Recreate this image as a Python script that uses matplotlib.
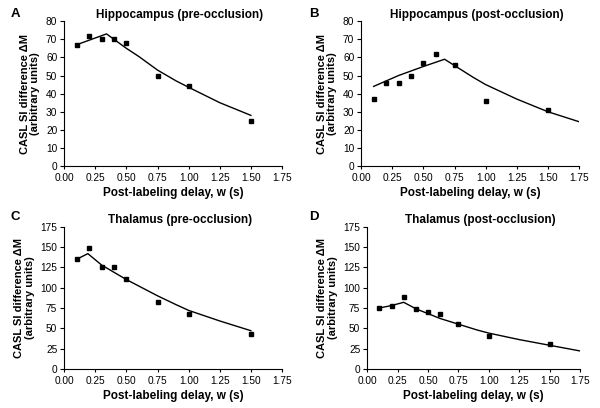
import matplotlib
matplotlib.use("Agg")
import matplotlib.pyplot as plt

plt.rcParams['font.family'] = ['Liberation Sans', 'DejaVu Sans']

# measured points
hip_pre_x = [0.1, 0.2, 0.3, 0.4, 0.5, 0.75, 1.0, 1.5]
hip_pre_y = [67, 72, 70, 70, 68, 50, 44, 25]
hip_post_x = [0.1, 0.2, 0.3, 0.4, 0.5, 0.6, 0.75, 1.0, 1.5]
hip_post_y = [37, 46, 46, 50, 57, 62, 56, 36, 31]
thal_pre_x = [0.1, 0.2, 0.3, 0.4, 0.5, 0.75, 1.0, 1.5]
thal_pre_y = [135, 149, 125, 125, 111, 82, 67, 43]
thal_post_x = [0.1, 0.2, 0.3, 0.4, 0.5, 0.6, 0.75, 1.0, 1.5]
thal_post_y = [75, 77, 88, 74, 70, 67, 55, 40, 30]

# model curves
hip_pre_fx = [0.1, 0.2, 0.34, 0.4, 0.5, 0.6, 0.75, 0.9, 1.0, 1.25, 1.5]
hip_pre_fy = [67, 69.5, 73, 70, 65, 60.5, 53, 47, 43.5, 35, 28]
hip_post_fx = [0.1, 0.2, 0.3, 0.4, 0.5, 0.67, 0.75, 0.9, 1.0, 1.25, 1.5, 1.75]
hip_post_fy = [44, 47, 50, 52.5, 55, 59, 55.5, 49, 45, 37, 30, 24.5]
thal_pre_fx = [0.1, 0.19, 0.3, 0.4, 0.5, 0.6, 0.75, 0.9, 1.0, 1.25, 1.5]
thal_pre_fy = [135, 142, 128, 119, 110, 102, 90, 79, 72, 59, 47]
thal_post_fx = [0.1, 0.2, 0.3, 0.4, 0.5, 0.6, 0.75, 0.9, 1.0, 1.25, 1.5, 1.75]
thal_post_fy = [75, 78, 82, 74, 68, 62, 55, 48, 44, 36, 29, 22]

titles = ['Hippocampus (pre-occlusion)', 'Hippocampus (post-occlusion)',
          'Thalamus (pre-occlusion)', 'Thalamus (post-occlusion)']
letters = ['A', 'B', 'C', 'D']
xticks = [0.0, 0.25, 0.5, 0.75, 1.0, 1.25, 1.5, 1.75]

panels = [
    (hip_pre_x, hip_pre_y, hip_pre_fx, hip_pre_fy, 80, 10),
    (hip_post_x, hip_post_y, hip_post_fx, hip_post_fy, 80, 10),
    (thal_pre_x, thal_pre_y, thal_pre_fx, thal_pre_fy, 175, 25),
    (thal_post_x, thal_post_y, thal_post_fx, thal_post_fy, 175, 25),
]
rects = [
    [0.107, 0.593, 0.363, 0.355],
    [0.602, 0.593, 0.363, 0.355],
    [0.107, 0.096, 0.363, 0.348],
    [0.612, 0.096, 0.355, 0.348],
]
letter_pos = [(0.017, 0.965), (0.515, 0.965), (0.017, 0.468), (0.515, 0.468)]

fig = plt.figure(figsize=(6, 4.08), dpi=100)

for i, (px, py, fx, fy, ymax, ystep) in enumerate(panels):
    ax = fig.add_axes(rects[i])
    ax.plot(fx, fy, color='black', lw=1.0)
    ax.plot(px, py, ls='', marker='s', ms=2.2, color='black')
    ax.set_xlim(0, 1.75)
    ax.set_ylim(0, ymax)
    ax.set_xticks(xticks)
    ax.set_xticklabels(['%.2f' % t for t in xticks])
    ax.set_yticks(range(0, ymax + 1, ystep))
    ax.spines['top'].set_visible(False)
    ax.spines['right'].set_visible(False)
    ax.spines['left'].set_linewidth(0.8)
    ax.spines['bottom'].set_linewidth(0.8)
    ax.tick_params(labelsize=7.3, length=3, width=0.8, pad=2)
    ax.tick_params(axis='x', length=2.5, pad=2.5)
    ax.set_title(titles[i], fontsize=8.5, fontweight='bold', pad=2.5, x=0.53)
    ax.set_xlabel('Post-labeling delay, w (s)', fontsize=8.5, fontweight='bold', labelpad=3)
    ax.set_ylabel('CASL SI difference \u0394M\n(arbitrary units)', fontsize=8,
                  fontweight='bold', labelpad=4, linespacing=1.05)
    fig.text(letter_pos[i][0], letter_pos[i][1], letters[i], fontsize=9.5,
             fontweight='bold', va='center')

fig.savefig('out.png', dpi=100)
